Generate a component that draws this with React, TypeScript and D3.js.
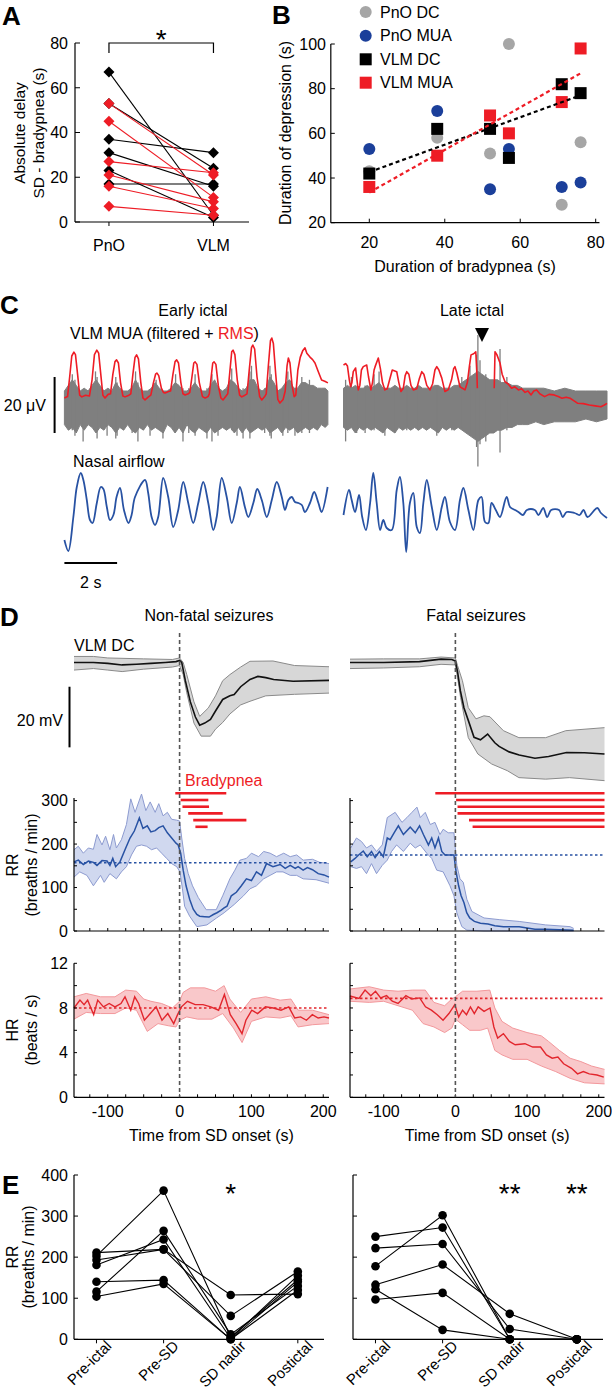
import React from "react";
import * as d3 from "d3";

type P = [number, number];
type T3 = [number, number, number];

// ---------------- Panel A ----------------
const A_GROUPS = ["PnO", "VLM"];
const A_BLACK_PNO = [67, 53, 37, 31, 23, 17];
const A_BLACK_VLM = [3, 24, 31, 16, 2, 17];
const A_RED_PNO = [53, 45, 27, 21, 16, 7];
const A_RED_VLM = [21, 11, 22, 9, 6, 3];
const A_TICKS = [0, 20, 40, 60, 80];

// ---------------- Panel B ----------------
const B_BRADY = [20, 38, 52, 57, 71, 76];
const B_PNO_DC = [43, 58, 51, 100, 28, 56];
const B_PNO_MUA = [53, 70, 35, 53, 36, 38];
const B_VLM_DC = [42, 62, 62, 49, 82, 78];
const B_VLM_MUA = [36, 50, 68, 60, 74, 98];
const B_XTICKS = [20, 40, 60, 80];
const B_YTICKS = [20, 40, 60, 80, 100];
const B_LEGEND = ["PnO DC", "PnO MUA", "VLM DC", "VLM MUA"];

// ---------------- Panel C (time s, μV / airflow a.u.) ----------------
const RMS_EARLY: P[] = [[0,2.5],[0.12,3.0],[0.2,10],[0.28,17.5],[0.36,18.9],[0.42,18],[0.5,11],[0.58,3.5],[0.66,2.9],[0.8,3.5],[0.95,3.2],[1.05,9],[1.14,18],[1.23,19.6],[1.3,18.5],[1.38,11],[1.46,3.5],[1.54,2.5],[1.66,3.8],[1.75,4],[1.84,11],[1.92,15.5],[1.98,16.1],[2.05,15],[2.13,8],[2.22,3.2],[2.30,2.9],[2.45,3.5],[2.52,4],[2.6,11],[2.68,17],[2.74,17.9],[2.81,16.5],[2.9,8],[2.98,2.5],[3.06,1.8],[3.2,3],[3.28,3.5],[3.38,8],[3.46,11],[3.51,11.4],[3.58,10.5],[3.68,6],[3.76,4.5],[3.82,4.3],[3.95,4.8],[4.03,5],[4.12,11],[4.2,15.5],[4.26,16.1],[4.33,15],[4.42,8],[4.5,4],[4.58,3.6],[4.7,4],[4.76,4.5],[4.84,10],[4.91,15],[4.96,15.4],[5.03,14.5],[5.12,8],[5.24,3],[5.34,2.5],[5.45,3],[5.5,4],[5.57,10],[5.63,15],[5.68,15.4],[5.75,14.5],[5.84,7],[5.94,2.5],[6.02,1.8],[6.12,3],[6.2,4],[6.28,12],[6.35,19],[6.40,19.6],[6.47,18],[6.56,9],[6.65,3.5],[6.73,2.9],[6.85,3.5],[6.93,4],[7.02,13],[7.1,20.5],[7.15,21.4],[7.22,20],[7.31,10],[7.41,3],[7.49,1.8],[7.6,3],[7.66,4],[7.74,14],[7.82,23],[7.87,23.9],[7.93,22],[8.02,11],[8.1,2],[8.18,0.7],[8.3,2],[8.38,5],[8.45,14],[8.5,16.8],[8.56,15],[8.64,7],[8.72,3],[8.78,3.5],[8.86,12.5],[8.95,17],[9.05,19.5],[9.13,20.4],[9.2,18.5],[9.32,17.1],[9.42,16.2],[9.51,15.0],[9.64,11.8],[9.76,8.9],[9.88,8.5],[10,7.9]];
const RMS_LATE: P[] = [[0,14.3],[0.08,14.8],[0.15,13.9],[0.22,9],[0.27,6.5],[0.32,8],[0.37,11.9],[0.46,13.2],[0.51,9],[0.56,5.4],[0.62,7],[0.68,12.5],[0.75,13.7],[0.88,14.3],[0.95,10],[1.04,5.4],[1.1,8],[1.16,12.5],[1.20,13.7],[1.32,16.8],[1.40,13.0],[1.48,8],[1.57,5.4],[1.66,5.8],[1.75,9],[1.85,12.5],[2.02,11.9],[2.1,8],[2.18,4.8],[2.27,6],[2.34,10.5],[2.40,11.9],[2.48,11],[2.56,7],[2.65,5.4],[2.78,5.8],[2.88,9.5],[2.97,11.9],[3.05,11.0],[3.16,7],[3.28,5.4],[3.38,7.5],[3.47,12.5],[3.54,13.7],[3.62,12.5],[3.73,9.6],[3.85,4.8],[3.98,5.5],[4.1,9],[4.18,13],[4.23,13.7],[4.3,11.5],[4.42,6.5],[4.61,5.4],[4.7,8],[4.78,14],[4.84,17.9],[4.94,18.3],[5.02,19.0],[5.06,12],[5.08,6.0],[5.3,NaN],[5.72,6.0],[5.75,19.0],[5.82,18],[5.94,15.0],[6.02,11],[6.13,8.3],[6.25,7.5],[6.38,6.0],[6.5,6.5],[6.64,5.4],[6.76,5.8],[6.89,4.5],[7.0,5],[7.12,3.6],[7.22,5],[7.33,5.4],[7.45,4],[7.63,3.0],[7.8,3.8],[7.99,3.6],[8.15,3],[8.29,2.4],[8.45,2.8],[8.60,2.4],[8.75,1.5],[8.89,0.6],[9.1,0.5],[9.33,0],[9.55,-0.3],[9.77,-0.6],[9.9,0],[10,0.6]];
const MUA_EARLY_ENV: T3[] = [[0,5,-7],[0.15,7,-9],[0.3,9,-8],[0.45,7,-10],[0.6,5,-7],[0.75,6,-9],[0.9,5,-7],[1.05,7,-8],[1.2,9,-10],[1.35,7,-8],[1.5,5,-9],[1.65,6,-7],[1.8,5,-8],[1.95,8,-10],[2.1,6,-8],[2.25,5,-9],[2.4,5,-7],[2.55,6,-9],[2.7,9,-10],[2.85,6,-8],[3.0,5,-9],[3.15,5,-7],[3.3,6,-9],[3.45,8,-8],[3.6,6,-9],[3.75,5,-10],[3.9,5,-7],[4.05,6,-8],[4.2,8,-10],[4.35,7,-8],[4.5,5,-10],[4.65,5,-7],[4.8,6,-9],[4.95,8,-10],[5.1,6,-8],[5.25,5,-9],[5.4,5,-10],[5.55,7,-8],[5.7,9,-10],[5.85,6,-9],[6.0,5,-8],[6.15,6,-9],[6.3,9,-8],[6.45,8,-10],[6.6,6,-8],[6.75,5,-10],[6.9,6,-8],[7.05,9,-10],[7.2,9,-9],[7.35,6,-8],[7.5,5,-9],[7.65,6,-8],[7.8,10,-10],[7.95,8,-9],[8.1,5,-8],[8.25,6,-10],[8.4,8,-8],[8.55,9,-9],[8.7,6,-8],[8.85,6,-10],[9.0,8,-9],[9.15,8,-8],[9.3,7,-9],[9.45,7,-8],[9.6,6,-9],[9.75,6,-7],[9.9,6,-8],[10,5,-7]];
const MUA_EARLY_SPIKES: T3[] = [[0.30,11,-9],[0.40,9,-11],[0.71,4,-13],[1.18,12,-8],[1.24,10,-12],[1.62,5,-11],[1.95,10,-12],[2.0,8,-11],[2.57,6,-10],[2.70,12,-9],[2.79,8,-13],[3.25,5,-11],[3.48,9,-8],[3.74,5,-12],[4.22,11,-9],[4.50,6,-13],[4.72,6,-10],[4.96,11,-11],[5.41,6,-12],[5.60,11,-13],[5.83,6,-11],[6.35,13,-9],[6.55,7,-11],[6.78,6,-12],[7.04,12,-12],[7.10,14,-9],[7.6,6,-10],[7.80,14,-11],[7.85,11,-12],[8.29,6,-11],[8.48,12,-10],[8.75,6,-11],[9.01,10,-10],[9.3,9,-10]];
const MUA_LATE_ENV: T3[] = [[0,6,-8],[0.15,7,-9],[0.3,6,-8],[0.45,7,-10],[0.6,6,-8],[0.75,6,-9],[0.9,7,-8],[1.05,6,-9],[1.2,7,-8],[1.35,8,-9],[1.5,6,-10],[1.65,6,-8],[1.8,6,-9],[1.95,7,-10],[2.1,6,-8],[2.25,6,-9],[2.4,7,-8],[2.55,6,-9],[2.7,6,-8],[2.85,7,-9],[3.0,6,-8],[3.15,6,-9],[3.3,6,-8],[3.45,7,-9],[3.6,7,-10],[3.75,6,-8],[3.9,6,-9],[4.05,6,-8],[4.2,7,-9],[4.35,7,-8],[4.5,8,-9],[4.65,9,-10],[4.8,10,-11],[4.95,11,-12],[5.1,12,-13],[5.25,11,-12],[5.4,10,-11],[5.55,9,-10],[5.7,9,-10],[5.85,9,-9],[6.0,8,-9],[6.2,8,-8],[6.4,7,-8],[6.6,7,-7],[6.8,6,-7],[7.0,6,-7],[7.3,6,-6],[7.6,6,-7],[8.0,5,-6],[8.4,6,-6],[8.8,5,-6],[9.2,5,-5],[9.6,5,-6],[10,5,-5]];
const MUA_LATE_SPIKES: T3[] = [[0.08,9,-13],[0.30,10,-7],[0.50,6,-10],[0.82,7,-10],[1.16,11,-9],[1.35,12,-7],[1.57,6,-11],[1.95,7,-10],[2.40,6,-9],[2.83,6,-9],[3.54,7,-11],[4.11,6,-9],[4.49,10,-8],[4.80,14,-10],[5.05,18,-15],[5.10,25,-22],[5.18,16,-14],[5.40,11,-13],[5.94,20,-17],[6.2,10,-9]];
const AIR_EARLY: P[] = [[0,-2.0],[0.15,-3.1],[0.34,0.3],[0.47,3.3],[0.62,4.7],[0.72,4.0],[0.85,2.0],[0.97,0],[1.07,-0.3],[1.23,1.7],[1.38,3.3],[1.48,3.1],[1.61,1.3],[1.73,0],[1.86,0.5],[1.98,2.3],[2.11,3.2],[2.26,1.0],[2.43,-0.3],[2.55,0.5],[2.68,2.3],[3.06,4.0],[3.18,2.7],[3.31,0.3],[3.44,-0.5],[3.56,0.3],[3.75,4.2],[3.94,2.3],[4.13,-0.7],[4.32,1.0],[4.51,3.8],[4.70,1.7],[4.89,-0.3],[5.08,1.7],[5.27,3.8],[5.46,1.7],[5.65,-1.0],[5.78,0.3],[5.97,4.2],[6.16,2.3],[6.35,-0.3],[6.54,1.7],[6.66,3.3],[6.85,1.3],[6.98,0.3],[7.17,1.7],[7.32,3.1],[7.49,2.0],[7.68,0.3],[7.87,2.0],[8.06,3.8],[8.25,2.3],[8.37,1.0],[8.50,2.0],[8.63,2.3],[8.75,1.8],[8.88,1.7],[9.01,1.5],[9.13,0.8],[9.32,1.7],[9.48,2.8],[9.64,1.7],[9.76,0.8],[9.99,3.3]];
const AIR_LATE: P[] = [[0,0.5],[0.21,3.0],[0.31,2.0],[0.44,0.8],[0.59,2.5],[0.71,0.3],[0.85,-1.0],[1.01,1.7],[1.13,4.7],[1.26,1.7],[1.39,-1.0],[1.51,0],[1.64,-0.8],[1.83,-1.0],[2.02,3.0],[2.14,4.3],[2.27,1.7],[2.38,-3.2],[2.52,1.7],[2.65,2.7],[2.78,-0.7],[2.90,-1.3],[3.03,1.7],[3.16,4.0],[3.35,1.3],[3.54,-1.0],[3.73,1.3],[3.85,2.3],[4.04,-0.2],[4.23,-1.0],[4.42,2.0],[4.55,3.2],[4.74,1.0],[4.93,-1.0],[5.12,2.0],[5.24,2.3],[5.37,-0.2],[5.50,-0.3],[5.62,1.7],[5.78,1.0],[5.94,0.3],[6.19,2.3],[6.32,1.3],[6.51,1.0],[6.64,0.8],[6.81,0.5],[6.96,1.0],[7.26,1.0],[7.40,0.5],[7.58,1.2],[7.73,0.3],[7.88,1.0],[8.18,1.0],[8.32,0.3],[8.47,0.8],[8.77,0.7],[8.96,0.5],[9.11,1.0],[9.26,0.3],[9.63,1.2],[9.77,0.7],[10,0.2]];

// ---------------- Panel D (time s) ----------------
const DC_NF_MEAN: P[] = [[-147,0],[-120,0],[-100,-0.3],[-80,-0.8],[-60,-0.6],[-40,-0.3],[-20,0],[-5,0.3],[0,0.7],[3,0],[8,-6],[15,-13],[22,-18],[28,-20.7],[35,-20],[43,-18.8],[50,-16],[60,-12.2],[70,-11],[76,-10.6],[85,-8],[98,-5.6],[109,-4.6],[120,-5],[131,-5.6],[158,-6.2],[208,-5.9]];
const DC_NF_UP: P[] = [[-147,2],[-120,2],[-100,1.5],[-50,1.2],[-10,1],[0,1.5],[5,0],[10,-4],[20,-13],[28,-17.8],[40,-15],[50,-11],[60,-6],[70,-4],[85,-1.5],[98,0.4],[130,0.5],[160,-1],[208,-1.4]];
const DC_NF_LO: P[] = [[-147,-2.5],[-120,-2],[-100,-2.5],[-80,-3],[-50,-2.2],[-10,-1.5],[0,-1],[5,-4],[10,-10],[20,-20],[30,-24.3],[43,-24.3],[50,-22],[60,-19.8],[70,-17],[85,-14],[98,-12.8],[120,-11],[160,-10.5],[208,-10.1]];
const DC_F_MEAN: P[] = [[-147,0],[-100,0],[-50,0.3],[-20,1.1],[-5,1.0],[0,0.5],[3,-3],[7,-9.4],[12,-15],[18,-19.1],[26,-24.7],[35,-25.5],[45,-23.6],[55,-26.5],[61,-27.7],[75,-29.5],[89,-30.5],[111,-31.6],[130,-31],[155,-29.7],[180,-29.8],[208,-30.2]];
const DC_F_UP: P[] = [[-147,1.1],[-100,1.2],[-50,1.2],[-20,1.8],[0,1.5],[3,-1],[9.8,-6],[18,-14.9],[28.7,-18.6],[39.8,-17.6],[48.2,-17.9],[67,-22.5],[88.6,-24.8],[126,-24.8],[154,-22.5],[208,-21.5]];
const DC_F_LO: P[] = [[-147,-2],[-100,-1.8],[-50,-1.4],[-20,-0.6],[0,-0.8],[3,-5],[7.3,-11.6],[18,-24.8],[31.4,-30.2],[50.6,-33.5],[72.4,-35.7],[88.6,-38],[126,-38.5],[159,-38],[208,-39]];

const RR_NF_MEAN: P[] = [[-147,159],[-141,163],[-134,153],[-127,161],[-120,158],[-115,151],[-108,162],[-101,161],[-97,151],[-93,167],[-89,148],[-83,159],[-76,187],[-69,214],[-63,230],[-56,260],[-51,236],[-45,242],[-40,228],[-34,231],[-29,238],[-23,242],[-17,226],[-11,214],[-5,202],[-2,198],[1.5,179],[5,140],[9,104],[14,73],[19,50],[24,38],[28,34],[35,33],[41,32],[47,38],[52,42],[58,48],[62,53],[66,57],[72,81],[79,89],[86,104],[93,120],[100,116],[107,136],[114,128],[121,155],[130,148],[140,153],[147,144],[154,151],[161,144],[165,148],[172,140],[178,146],[185,141],[193,132],[201,129],[208,124]];
const RR_NF_UP: P[] = [[-147,187],[-141,195],[-134,179],[-127,191],[-120,188],[-115,222],[-108,198],[-103,218],[-97,187],[-92,222],[-88,191],[-81,210],[-74,245],[-68,304],[-62,273],[-53,315],[-47,277],[-41,297],[-34,273],[-29,293],[-23,265],[-17,273],[-11,257],[-4,255],[0,253],[3,214],[7,167],[12,132],[18,104],[26,77],[37,49],[51,49],[60,81],[70,120],[77,140],[84,163],[93,167],[100,179],[110,171],[117,183],[126,179],[135,171],[145,179],[154,171],[163,175],[172,163],[185,165],[195,158],[208,155]];
const RR_NF_LO: P[] = [[-147,124],[-139,136],[-129,128],[-120,104],[-110,128],[-105,112],[-97,132],[-88,120],[-81,136],[-74,148],[-67,175],[-60,195],[-53,198],[-46,195],[-39,187],[-32,191],[-25,179],[-18,167],[-11,155],[-4,148],[0.5,136],[4,97],[7,57],[14,34],[24,10],[38,14],[51.5,30],[62,42],[76,61],[89,81],[98,97],[107,104],[117,120],[126,128],[135,136],[144,136],[154,128],[163,128],[172,120],[190,118],[208,110]];
const RR_F_MEAN: P[] = [[-146,159],[-140,167],[-135,175],[-128.5,184],[-123,171],[-117,183],[-112,169],[-106,183],[-100.5,171],[-95,214],[-91,210],[-85.5,226],[-79.5,242],[-72.5,222],[-63,239],[-56,226],[-50,242],[-44.6,222],[-37.6,198],[-33,214],[-28.5,191],[-23.6,214],[-19,183],[-14.5,175],[-2,175],[1,136],[4.5,104],[8,81],[12,65],[15.8,42],[20,30],[26.5,22],[35,18],[45.5,16],[55,12],[67,10],[89,10],[100,7],[111,4],[126,4],[145,3],[165,2]];
const RR_F_UP: P[] = [[-146,191],[-138,214],[-131,206],[-124,191],[-117,198],[-110,183],[-102,198],[-95,261],[-84,273],[-74.5,250],[-67.6,261],[-60.6,273],[-53.6,285],[-49,261],[-42,273],[-35,245],[-28.5,250],[-21.5,222],[-17,234],[-10,226],[-2,226],[2,151],[6.5,120],[11,112],[16,73],[23,45],[40,30],[62,26],[89,22],[126,14],[160,10],[165,6]];
const RR_F_LO: P[] = [[-146,148],[-138,144],[-131,148],[-124,132],[-117,155],[-110,132],[-102,151],[-95,163],[-89,183],[-82,198],[-72.5,183],[-63,202],[-56,191],[-49,198],[-40,179],[-33,167],[-26,140],[-17,136],[-7.5,104],[-2,81],[2,42],[9,10],[16,2],[40,0],[100,0],[165,0]];

const HR_NF_MEAN: P[] = [[-147,8.0],[-138.7,8.7],[-133,8.3],[-128,8.7],[-119.6,7.4],[-114,8.7],[-106,8.1],[-98,8.4],[-90,8.1],[-81.6,8.4],[-76,9.0],[-68,7.8],[-62.5,9.0],[-57,8.4],[-49,6.9],[-40.8,7.5],[-32.7,8.1],[-24.5,6.9],[-16.4,7.5],[-8.2,6.6],[-2.8,7.4],[2.6,8.1],[10.9,8.6],[21.7,8.3],[32.6,8.3],[43.4,8.1],[54.3,7.8],[62.4,9.2],[70.6,7.4],[78.7,6.6],[86.9,5.7],[92.3,6.9],[100.5,7.8],[108.6,7.5],[119.5,8.1],[130.4,8.0],[141.2,7.8],[152,8.1],[160.3,7.1],[168.4,7.2],[176.6,6.9],[184.8,7.4],[192.9,7.1],[201,7.2],[208,7.1]];
const HR_NF_UP: P[] = [[-147,9.0],[-130,9.3],[-110,9.0],[-90,9.0],[-75,9.6],[-60,9.5],[-50,8.8],[-40,8.6],[-25,8.4],[-10,8.0],[0,8.6],[5,9.4],[15,9.8],[35,9.8],[50,9.5],[62,10.0],[70,8.8],[85,7.6],[100,8.8],[120,9.0],[140,8.7],[155,8.8],[165,7.8],[185,7.8],[208,7.4]];
const HR_NF_LO: P[] = [[-147,7.0],[-130,7.6],[-110,7.5],[-90,7.5],[-75,8.0],[-60,7.8],[-45,5.9],[-30,6.6],[-15,6.4],[-5,6.3],[0,6.9],[10,7.2],[25,7.0],[45,7.0],[60,7.5],[75,6.2],[87,4.9],[100,6.8],[120,7.2],[140,7.1],[155,7.3],[165,6.3],[185,6.5],[208,6.6]];
const HR_F_MEAN: P[] = [[-147,9.07],[-134.4,8.86],[-126,9.6],[-118,9.1],[-111.4,9.5],[-104.3,8.9],[-96,9.1],[-88,8.6],[-80,8.4],[-69,9.1],[-60.7,8.8],[-49.8,8.9],[-41.7,8.1],[-33.5,7.8],[-25.3,7.4],[-17.2,6.9],[-9,7.5],[-0.8,8.3],[4.6,7.2],[10,7.8],[15.5,7.4],[21,8.1],[26.4,7.5],[31.8,8.1],[40,7.7],[48.3,8.0],[53.7,6.3],[59,5.3],[67,5.7],[75.3,5.0],[83.4,4.7],[97,4.8],[107.9,4.5],[118.8,4.5],[127,3.8],[135,3.5],[143,3.6],[151,3.0],[162,2.6],[170.4,2.1],[178.5,2.3],[186.7,2.1],[197.6,2.0],[207,1.8]];
const HR_F_UP: P[] = [[-147,9.7],[-120,9.9],[-100,9.6],[-80,9.5],[-60,9.6],[-42,9.6],[-30,8.5],[-15,8.2],[-5,8.8],[0,9.0],[10,9.5],[30,9.5],[48,9.6],[55,8.0],[65,6.8],[80,6.2],[100,5.8],[120,5.5],[130,5.0],[145,4.2],[160,3.5],[175,3.2],[190,2.8],[208,2.5]];
const HR_F_LO: P[] = [[-147,8.6],[-120,8.5],[-100,8.6],[-80,8.2],[-60,7.8],[-45,6.6],[-30,6.3],[-15,5.8],[-5,6.2],[0,7.0],[10,6.5],[20,6.0],[35,6.0],[45,6.2],[55,4.2],[65,3.8],[80,3.4],[100,3.4],[120,2.8],[140,2.3],[160,1.7],[180,1.3],[208,1.2]];

const RR_BASE_NF = 157;
const RR_BASE_F = 175;
const HR_BASE_NF = 8.0;
const HR_BASE_F = 8.86;
const BRADY_NF: P[] = [[-6,65],[1.5,40],[4,41],[12,60],[19,93],[22,39]];
const BRADY_F: P[] = [[-28,208],[1,208],[3,208],[3,208],[19,208],[24,208]];
const D_XTICK_LABELS = [-100, 0, 100, 200];
const RR_TICK_LABELS = [0, 100, 200, 300];
const HR_TICK_LABELS = [0, 4, 8, 12];

// ---------------- Panel E ----------------
const E_CATS = ["Pre-ictal", "Pre-SD", "SD nadir", "Postictal"];
const E_NONFATAL = [[211,219,108,110],[203,362,5,145],[193,219,57,165],[181,243,2,155],[116,264,12,130],[140,144,0,120],[104,135,0,140]];
const E_FATAL = [[250,272,0,0],[222,232,25,0],[178,302,0,0],[133,182,62,0],[122,23,0,0],[97,113,0,0]];
const E_YTICKS = [0, 100, 200, 300, 400];

const FONT = "'Liberation Sans', Arial, Helvetica, sans-serif";
const RED = "#ee1c25";
const BLUE = "#2852a3";
const GREY = "#7f7f7f";

const mkLine = (xs: any, ys: any, curve: any = d3.curveLinear) =>
  d3.line<P>().defined(d => !isNaN(d[1])).x(d => xs(d[0])).y(d => ys(d[1])).curve(curve);
const bandPath = (xs: any, ys: any, up: P[], lo: P[]) =>
  (mkLine(xs, ys)([...up, ...lo.slice().reverse()]) || "") + "Z";

function regress(xs: number[], ys: number[]) {
  const mx = d3.mean(xs)!, my = d3.mean(ys)!;
  const sxy = d3.sum(xs, (x, i) => (x - mx) * (ys[i] - my));
  const sxx = d3.sum(xs, x => (x - mx) * (x - mx));
  const b = sxy / sxx;
  return (x: number) => my + b * (x - mx);
}

function diamond(x: number, y: number, r: number) {
  return `M${x},${y - r}L${x + r},${y}L${x},${y + r}L${x - r},${y}Z`;
}

function PanelA() {
  const ax = d3.scaleLinear().domain([0.675, 2.34]).range([75, 249]);
  const ay = d3.scaleLinear().domain([0, 80]).range([222, 43]);
  const x1 = ax(1), x2 = ax(2);
  return (
    <g>
      <text x={2} y={25} fontSize={26} fontWeight="bold">A</text>
      <line x1={75} x2={75} y1={ay(80)} y2={ay(0)} stroke="#000" strokeWidth={1.2} />
      <line x1={75} x2={249} y1={ay(0)} y2={ay(0)} stroke="#000" strokeWidth={1.2} />
      {A_TICKS.map(t => (
        <g key={t}>
          <line x1={75} x2={80} y1={ay(t)} y2={ay(t)} stroke="#000" />
          <text x={68} y={ay(t)} dy="0.36em" textAnchor="end" fontSize={16}>{t}</text>
        </g>
      ))}
      {A_GROUPS.map((g, i) => (
        <g key={g}>
          <line x1={ax(i + 1)} x2={ax(i + 1)} y1={ay(0)} y2={ay(0) + 4} stroke="#000" />
          <text x={ax(i + 1)} y={251} textAnchor="middle" fontSize={16}>{g}</text>
        </g>
      ))}
      <text transform="translate(19,133) rotate(-90)" textAnchor="middle" dy="0.36em" fontSize={15.5}>Absolute delay</text>
      <text transform="translate(38,133) rotate(-90)" textAnchor="middle" dy="0.36em" fontSize={15.5}>SD - bradypnea (s)</text>
      <path d={`M${x1},${ay(80) + 10}V${ay(80)}H${x2}V${ay(80) + 10}`} fill="none" stroke="#000" strokeWidth={1.2} />
      <text x={(x1 + x2) / 2} y={49} textAnchor="middle" fontSize={28}>*</text>
      {A_BLACK_PNO.map((v, i) => (
        <line key={"bl" + i} x1={x1} y1={ay(v)} x2={x2} y2={ay(A_BLACK_VLM[i])} stroke="#000" strokeWidth={1.1} />
      ))}
      {A_RED_PNO.map((v, i) => (
        <line key={"rl" + i} x1={x1} y1={ay(v)} x2={x2} y2={ay(A_RED_VLM[i])} stroke={RED} strokeWidth={1.1} />
      ))}
      {A_BLACK_PNO.map((v, i) => (
        <g key={"bm" + i}>
          <path d={diamond(x1, ay(v), 5.5)} fill="#000" />
          <path d={diamond(x2, ay(A_BLACK_VLM[i]), 5.5)} fill="#000" />
        </g>
      ))}
      {A_RED_PNO.map((v, i) => (
        <g key={"rm" + i}>
          <path d={diamond(x1, ay(v), 5.5)} fill={RED} />
          <path d={diamond(x2, ay(A_RED_VLM[i]), 5.5)} fill={RED} />
        </g>
      ))}
    </g>
  );
}

function PanelB() {
  const bx = d3.scaleLinear().domain([20, 80]).range([369.3, 595.7]);
  const by = d3.scaleLinear().domain([20, 100]).range([222.7, 44]);
  const regDC = regress(B_BRADY, B_VLM_DC);
  const regMUA = regress(B_BRADY, B_VLM_MUA);
  const legendColors = ["#a6a6a6", "#1b3f9a", "#000", RED];
  const legendY = [12, 35.7, 59.3, 82.7];
  const sq = 12;
  return (
    <g>
      <text x={272} y={24} fontSize={26} fontWeight="bold">B</text>
      <line x1={bx(9.8)} x2={bx(9.8)} y1={by(100)} y2={by(20)} stroke="#000" strokeWidth={1.2} />
      <line x1={bx(9.8)} x2={bx(81)} y1={by(20)} y2={by(20)} stroke="#000" strokeWidth={1.2} />
      {B_YTICKS.map(t => (
        <g key={t}>
          <line x1={bx(9.8)} x2={bx(9.8) + 4} y1={by(t)} y2={by(t)} stroke="#000" />
          <text x={326} y={by(t)} dy="0.36em" textAnchor="end" fontSize={16}>{t}</text>
        </g>
      ))}
      {B_XTICKS.map(t => (
        <g key={t}>
          <line x1={bx(t)} x2={bx(t)} y1={by(20)} y2={by(20) - 4} stroke="#000" />
          <text x={bx(t)} y={248} textAnchor="middle" fontSize={16}>{t}</text>
        </g>
      ))}
      <text transform="translate(285,133) rotate(-90)" textAnchor="middle" dy="0.36em" fontSize={16}>Duration of depression (s)</text>
      <text x={465} y={272} textAnchor="middle" fontSize={16}>Duration of bradypnea (s)</text>
      {B_BRADY.map((x, i) => <circle key={"g" + i} cx={bx(x)} cy={by(B_PNO_DC[i])} r={6} fill={legendColors[0]} />)}
      {B_BRADY.map((x, i) => <circle key={"b" + i} cx={bx(x)} cy={by(B_PNO_MUA[i])} r={6} fill={legendColors[1]} />)}
      {B_BRADY.map((x, i) => <rect key={"r" + i} x={bx(x) - sq / 2} y={by(B_VLM_MUA[i]) - sq / 2} width={sq} height={sq} fill={RED} />)}
      {B_BRADY.map((x, i) => <rect key={"k" + i} x={bx(x) - sq / 2} y={by(B_VLM_DC[i]) - sq / 2} width={sq} height={sq} fill="#000" />)}
      <line x1={bx(20)} y1={by(regDC(20))} x2={bx(76)} y2={by(regDC(76))} stroke="#000" strokeWidth={2.2} strokeDasharray="4,3" />
      <line x1={bx(20)} y1={by(regMUA(20))} x2={bx(76)} y2={by(regMUA(76))} stroke={RED} strokeWidth={2.2} strokeDasharray="4,3" />
      {B_LEGEND.map((l, i) => (
        <g key={l}>
          {i < 2 ? <circle cx={365.7} cy={legendY[i]} r={6} fill={legendColors[i]} /> :
            <rect x={365.7 - 6} y={legendY[i] - 6} width={12} height={12} fill={legendColors[i]} />}
          <text x={380} y={legendY[i]} dy="0.36em" fontSize={16}>{l}</text>
        </g>
      ))}
    </g>
  );
}

function Trace({ x0, env, spikes, rms, air }: { x0: number; env: T3[]; spikes: T3[]; rms: P[]; air: P[] }) {
  const cx = d3.scaleLinear().domain([0, 10]).range([x0, x0 + 263.5]);
  const cyMua = d3.scaleLinear().domain([-20, 20]).range([461, 349]);
  const cyAir = d3.scaleLinear().domain([-5, 5]).range([570, 470]);
  const up: P[] = env.map(d => [d[0], d[1]]);
  const lo: P[] = env.map(d => [d[0], d[2]]);
  return (
    <g>
      <path d={bandPath(cx, cyMua, up, lo)} fill={GREY} stroke={GREY} strokeWidth={1} />
      {spikes.map((s, i) => (
        <line key={i} x1={cx(s[0])} x2={cx(s[0])} y1={cyMua(s[1])} y2={cyMua(s[2])} stroke={GREY} strokeWidth={1.3} />
      ))}
      <path d={mkLine(cx, cyMua)(rms) || ""} fill="none" stroke={RED} strokeWidth={1.6} strokeLinejoin="round" />
      <path d={mkLine(cx, cyAir, d3.curveCatmullRom.alpha(0.5))(air) || ""} fill="none" stroke={BLUE} strokeWidth={1.8} />
    </g>
  );
}

function PanelC() {
  const cyMua = d3.scaleLinear().domain([-20, 20]).range([461, 349]);
  const cx = d3.scaleLinear().domain([0, 10]).range([64.4, 327.9]);
  return (
    <g>
      <text x={0} y={314} fontSize={26} fontWeight="bold">C</text>
      <text x={193} y={315.5} textAnchor="middle" fontSize={16}>Early ictal</text>
      <text x={472} y={315.5} textAnchor="middle" fontSize={16}>Late ictal</text>
      <text x={70} y={338.5} fontSize={16}>VLM MUA (filtered + <tspan fill={RED}>RMS</tspan>)</text>
      <path d="M475,328L489,328L482,342Z" fill="#000" />
      <line x1={54.6} x2={54.6} y1={cyMua(10)} y2={cyMua(-10)} stroke="#000" strokeWidth={2} />
      <text x={46} y={cyMua(0)} dy="0.36em" textAnchor="end" fontSize={16}>20 μV</text>
      <Trace x0={64.4} env={MUA_EARLY_ENV} spikes={MUA_EARLY_SPIKES} rms={RMS_EARLY} air={AIR_EARLY} />
      <Trace x0={343.5} env={MUA_LATE_ENV} spikes={MUA_LATE_SPIKES} rms={RMS_LATE} air={AIR_LATE} />
      <text x={73} y={466.5} fontSize={16}>Nasal airflow</text>
      <line x1={cx(0)} x2={cx(2)} y1={563} y2={563} stroke="#000" strokeWidth={2} />
      <text x={(cx(0) + cx(2)) / 2} y={587.5} textAnchor="middle" fontSize={16}>2 s</text>
    </g>
  );
}

function DPanel(props: any) {
  const { x0, x1, dcM, dcU, dcL, rrM, rrU, rrL, rrBase, hrM, hrU, hrL, hrBase, brady, labels } = props;
  const xs = d3.scaleLinear().domain([-147, 208]).range([x0, x1]);
  const dcY = d3.scaleLinear().domain([-40, 0]).range([662.5 + 121.2, 662.5]);
  const rrY = d3.scaleLinear().domain([0, 306]).range([931, 798]);
  const hrY = d3.scaleLinear().domain([0, 12]).range([1097.3, 963.3]);
  const xt = d3.range(-125, 201, 25);
  const rrTicks = d3.range(0, 301, 50);
  const hrTicks = d3.range(0, 13, 2);
  const l = (ys: any) => mkLine(xs, ys);
  return (
    <g>
      <path d={bandPath(xs, dcY, dcU, dcL)} fill="#d7d7d7" />
      <path d={l(dcY)(dcU) || ""} fill="none" stroke="#8a8a8a" strokeWidth={1} />
      <path d={l(dcY)(dcL) || ""} fill="none" stroke="#8a8a8a" strokeWidth={1} />
      <path d={l(dcY)(dcM) || ""} fill="none" stroke="#111" strokeWidth={1.6} />
      {brady.map((b: P, i: number) => (
        <line key={i} x1={xs(b[0])} x2={xs(b[1])} y1={793.3 + i * 6.7} y2={793.3 + i * 6.7} stroke={RED} strokeWidth={2.6} />
      ))}
      <path d={bandPath(xs, rrY, rrU, rrL)} fill="#d0d8ef" />
      <path d={l(rrY)(rrU) || ""} fill="none" stroke="#8d9bd0" strokeWidth={1} />
      <path d={l(rrY)(rrL) || ""} fill="none" stroke="#8d9bd0" strokeWidth={1} />
      <path d={l(rrY)(rrM) || ""} fill="none" stroke={BLUE} strokeWidth={1.5} />
      <line x1={x0} x2={x1} y1={rrY(rrBase)} y2={rrY(rrBase)} stroke={BLUE} strokeWidth={1.6} strokeDasharray="2.5,2.5" />
      <line x1={x0} x2={x0} y1={rrY(306)} y2={rrY(0)} stroke="#000" strokeWidth={1.2} />
      <line x1={x0} x2={x1} y1={rrY(0)} y2={rrY(0)} stroke="#000" strokeWidth={1.2} />
      {rrTicks.map(t => <line key={t} x1={x0} x2={x0 + 3} y1={rrY(t)} y2={rrY(t)} stroke="#000" />)}
      {xt.map(t => <line key={t} x1={xs(t)} x2={xs(t)} y1={rrY(0)} y2={rrY(0) - 3} stroke="#000" />)}
      {labels && RR_TICK_LABELS.map(t => <text key={t} x={x0 - 6} y={rrY(t)} dy="0.36em" textAnchor="end" fontSize={16}>{t}</text>)}
      <path d={bandPath(xs, hrY, hrU, hrL)} fill="#f9c8ca" />
      <path d={l(hrY)(hrU) || ""} fill="none" stroke="#f3989c" strokeWidth={1} />
      <path d={l(hrY)(hrL) || ""} fill="none" stroke="#f3989c" strokeWidth={1} />
      <path d={l(hrY)(hrM) || ""} fill="none" stroke="#e2262d" strokeWidth={1.4} />
      <line x1={x0} x2={x1} y1={hrY(hrBase)} y2={hrY(hrBase)} stroke="#e2262d" strokeWidth={1.6} strokeDasharray="2.5,2.5" />
      <line x1={x0} x2={x0} y1={hrY(12)} y2={hrY(0)} stroke="#000" strokeWidth={1.2} />
      <line x1={x0} x2={x1} y1={hrY(0)} y2={hrY(0)} stroke="#000" strokeWidth={1.2} />
      {hrTicks.map(t => <line key={t} x1={x0} x2={x0 + 3} y1={hrY(t)} y2={hrY(t)} stroke="#000" />)}
      {xt.map(t => <line key={t} x1={xs(t)} x2={xs(t)} y1={hrY(0)} y2={hrY(0) - 3} stroke="#000" />)}
      {labels && HR_TICK_LABELS.map(t => <text key={t} x={x0 - 6} y={hrY(t)} dy="0.36em" textAnchor="end" fontSize={16}>{t}</text>)}
      {D_XTICK_LABELS.map(t => <text key={t} x={xs(t)} y={1117} textAnchor="middle" fontSize={16}>{t}</text>)}
      <text x={(x0 + x1) / 2 + 10} y={1140.5} textAnchor="middle" fontSize={16}>Time from SD onset (s)</text>
      <line x1={xs(0)} x2={xs(0)} y1={633} y2={hrY(0)} stroke="#555" strokeWidth={1.6} strokeDasharray="4,3" />
    </g>
  );
}

function PanelD() {
  const dcY = d3.scaleLinear().domain([-40, 0]).range([662.5 + 121.2, 662.5]);
  return (
    <g>
      <text x={0} y={626} fontSize={26} fontWeight="bold">D</text>
      <text x={209} y={620.5} textAnchor="middle" fontSize={16}>Non-fatal seizures</text>
      <text x={476} y={620.5} textAnchor="middle" fontSize={16}>Fatal seizures</text>
      <text x={74} y={651} fontSize={16}>VLM DC</text>
      <line x1={69.5} x2={69.5} y1={dcY(-8)} y2={dcY(-28)} stroke="#000" strokeWidth={2} />
      <text x={63} y={720} dy="0.36em" textAnchor="end" fontSize={16}>20 mV</text>
      <text x={185} y={785.5} fill={RED} fontSize={16}>Bradypnea</text>
      <DPanel x0={74} x1={329} dcM={DC_NF_MEAN} dcU={DC_NF_UP} dcL={DC_NF_LO} rrM={RR_NF_MEAN} rrU={RR_NF_UP} rrL={RR_NF_LO}
        rrBase={RR_BASE_NF} hrM={HR_NF_MEAN} hrU={HR_NF_UP} hrL={HR_NF_LO} hrBase={HR_BASE_NF} brady={BRADY_NF} labels />
      <DPanel x0={350} x1={604.5} dcM={DC_F_MEAN} dcU={DC_F_UP} dcL={DC_F_LO} rrM={RR_F_MEAN} rrU={RR_F_UP} rrL={RR_F_LO}
        rrBase={RR_BASE_F} hrM={HR_F_MEAN} hrU={HR_F_UP} hrL={HR_F_LO} hrBase={HR_BASE_F} brady={BRADY_F} labels={false} />
      <text transform="translate(12,865) rotate(-90)" textAnchor="middle" dy="0.36em" fontSize={16}>RR</text>
      <text transform="translate(31,865) rotate(-90)" textAnchor="middle" dy="0.36em" fontSize={16}>(breaths / min)</text>
      <text transform="translate(12,1030) rotate(-90)" textAnchor="middle" dy="0.36em" fontSize={16}>HR</text>
      <text transform="translate(31,1030) rotate(-90)" textAnchor="middle" dy="0.36em" fontSize={16}>(beats / s)</text>
    </g>
  );
}

function EPanel({ x0, x1, rows, labels, stars }: { x0: number; x1: number; rows: number[][]; labels: boolean; stars: string[] }) {
  const ex = d3.scaleLinear().domain([-0.335, 3.39]).range([x0, x1]);
  const ey = d3.scaleLinear().domain([0, 400]).range([1339.3, 1175]);
  const ln = d3.line<number>().x((_, i) => ex(i)).y(d => ey(d));
  return (
    <g>
      <line x1={x0} x2={x0} y1={ey(400)} y2={ey(0)} stroke="#000" strokeWidth={1.2} />
      <line x1={x0} x2={x1} y1={ey(0)} y2={ey(0)} stroke="#000" strokeWidth={1.2} />
      {E_YTICKS.map(t => (
        <g key={t}>
          <line x1={x0} x2={x0 + 4} y1={ey(t)} y2={ey(t)} stroke="#000" />
          {labels && <text x={x0 - 6} y={ey(t)} dy="0.36em" textAnchor="end" fontSize={16}>{t}</text>}
        </g>
      ))}
      {E_CATS.map((c, i) => (
        <g key={c}>
          <line x1={ex(i)} x2={ex(i)} y1={ey(0)} y2={ey(0) + 4} stroke="#000" />
          <text transform={`translate(${ex(i) + 16},1347) rotate(-45)`} textAnchor="end" fontSize={15}>{c}</text>
          {stars[i] && <text x={ex(i)} y={1203} textAnchor="middle" fontSize={28}>{stars[i]}</text>}
        </g>
      ))}
      {rows.map((r, k) => <path key={"l" + k} d={ln(r) || ""} fill="none" stroke="#000" strokeWidth={1.1} />)}
      {rows.map((r, k) => r.map((v, i) => <circle key={k + "-" + i} cx={ex(i)} cy={ey(v)} r={4.3} fill="#000" />))}
    </g>
  );
}

function PanelE() {
  return (
    <g>
      <text x={2} y={1194} fontSize={26} fontWeight="bold">E</text>
      <EPanel x0={74} x1={324} rows={E_NONFATAL} labels stars={["", "", "*", ""]} />
      <EPanel x0={353} x1={603} rows={E_FATAL} labels={false} stars={["", "", "**", "**"]} />
      <text transform="translate(12,1257) rotate(-90)" textAnchor="middle" dy="0.36em" fontSize={16}>RR</text>
      <text transform="translate(28,1257) rotate(-90)" textAnchor="middle" dy="0.36em" fontSize={16}>(breaths / min)</text>
    </g>
  );
}

export default function App() {
  const W = 612, H = 1393;
  return (
    <div style={{ position: "absolute", left: 0, top: 0, width: W, height: H, background: "#fff" }}>
      <svg width={W} height={H} viewBox={`0 0 ${W} ${H}`} style={{ display: "block" }} fontFamily={FONT} fill="#000">
        <rect width={W} height={H} fill="#fff" />
        <PanelA />
        <PanelB />
        <PanelC />
        <PanelD />
        <PanelE />
      </svg>
    </div>
  );
}
